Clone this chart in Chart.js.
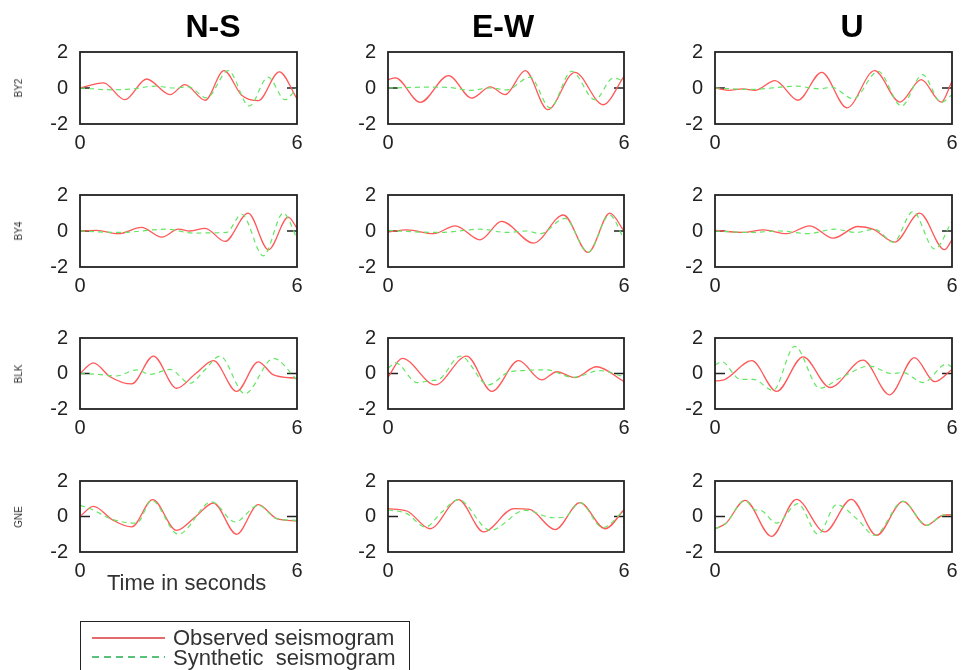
<!DOCTYPE html>
<html lang="en">
<head>
<meta charset="UTF-8" />
<title>Observed vs synthetic seismograms</title>
<script src="https://cdn.jsdelivr.net/npm/chart.js"></script>
<style>
    html, body {
        margin: 0;
        padding: 0;
        background: #fff;
        width: 965px;
        height: 670px;
        overflow: hidden;
        font-family: "Liberation Sans", Arial, sans-serif;
        color: #222;
    }
    .panel, .txt, .legend {
        position: absolute;
    }
    .txt {
        line-height: 1;
        white-space: pre;
    }
    .title {
        font-size: 32px;
        font-weight: bold;
        color: #000;
        transform: translateX(-50%);
    }
    .station {
        font-size: 10px;
        color: #333;
        transform: translate(-50%, -50%) rotate(-90deg);
    }
    .legend {
        left: 80px;
        top: 621px;
        width: 330px;
        height: 80px;
        border: 1.5px solid #222;
        box-sizing: border-box;
    }
</style>
</head>
<body>
<script>
    // axis ticks
    const X_TICKS = [0, 6];
    const Y_TICKS = [-2, 0, 2];
    const COMPONENTS = ["N-S", "E-W", "U"];
    const STATIONS = ["BY2", "BY4", "BLK", "GNE"];

    // [time s, amplitude]
    const NS_BY2_OBS = [[0,0],[0.65,0.28],[1.24,-0.65],[1.84,0.5],[2.49,-0.37],[2.9,0.19],[3.46,-0.68],[3.98,0.96],[4.47,-0.4],[4.93,-0.7],[5.51,0.9],[6,-0.6]];
    const NS_BY2_SYN = [[0,0],[0.9,-0.1],[1.4,-0.06],[2.1,0.1],[2.6,0],[3.0,0.06],[3.5,-0.55],[4.1,0.96],[4.68,-1.0],[5.2,0.6],[5.67,-0.65],[6,0.02]];
    const EW_BY2_OBS = [[0,0.46],[0.19,0.56],[0.82,-0.8],[1.54,0.69],[2.13,-0.56],[2.6,0.06],[2.98,-0.37],[3.49,0.96],[4.06,-1.2],[4.75,0.87],[5.47,-0.93],[6,0.65]];
    const EW_BY2_SYN = [[0,0],[1.1,0.05],[1.5,0.04],[2.09,-0.13],[2.6,0],[3.02,-0.1],[3.61,0.6],[4.12,-1.1],[4.67,0.93],[5.26,-0.65],[5.73,0.56],[6,0.37]];
    const U_BY2_OBS = [[0,0],[0.34,-0.13],[0.7,-0.05],[1.01,-0.13],[1.52,0.41],[2.1,-0.68],[2.7,0.87],[3.34,-1.1],[4.04,0.96],[4.68,-0.78],[5.22,0.46],[5.73,-0.78],[6,0.37]];
    const U_BY2_SYN = [[0,0],[0.88,-0.08],[2.06,0.1],[2.65,-0.05],[2.95,0.05],[3.5,-0.6],[4.13,0.93],[4.72,-1.0],[5.25,0.74],[5.73,-0.8],[6,-0.37]];

    const NS_BY4_OBS = [[0,0],[0.46,0.03],[1.06,-0.15],[1.7,0.2],[2.26,-0.34],[2.72,0.1],[3.04,0.0],[3.46,0.15],[4.01,-0.58],[4.65,0.99],[5.21,-1.04],[5.76,0.77],[6,0.15]];
    const NS_BY4_SYN = [[0,0],[1.1,-0.08],[2.4,0.1],[3.13,-0.12],[3.6,-0.1],[4.05,-0.08],[4.47,0.93],[5.07,-1.38],[5.62,0.99],[6,-0.4]];
    const EW_BY4_OBS = [[0,-0.06],[0.48,0.06],[1.16,-0.15],[1.71,0.29],[2.34,-0.49],[2.89,0.53],[3.7,-0.67],[4.46,0.89],[5.09,-1.19],[5.64,0.99],[6,0]];
    const EW_BY4_SYN = [[0,0.03],[0.82,-0.06],[1.33,-0.08],[2.34,0.1],[3.02,-0.08],[3.53,0],[3.87,-0.15],[4.5,0.7],[5.09,-1.19],[5.63,0.89],[6,-0.45]];
    const U_BY4_OBS = [[0,0.03],[0.72,-0.08],[1.23,0.06],[1.81,-0.15],[2.4,0.29],[2.99,-0.4],[3.62,0.25],[4.0,0.1],[4.55,-0.62],[5.18,0.99],[5.81,-1.04],[6,-0.49]];
    const U_BY4_SYN = [[0,0],[0.88,-0.08],[1.64,0],[2.36,-0.15],[3.03,0.1],[3.58,-0.08],[4.04,0.1],[4.52,-0.62],[5.01,1.08],[5.56,-1.0],[6,0.53]];

    const NS_BLK_OBS = [[0,0],[0.37,0.6],[0.83,-0.18],[1.43,-0.59],[2.03,0.98],[2.67,-0.83],[3.2,0.0],[3.69,0.72],[4.33,-1.01],[4.93,0.66],[5.35,-0.08],[6,-0.27]];
    const NS_BLK_SYN = [[0,0],[0.5,-0.05],[1.0,-0.14],[1.57,0.2],[1.94,-0.05],[2.49,0.23],[3.04,-0.55],[3.45,0.2],[3.87,0.98],[4.56,-1.14],[5.35,0.85],[6,-0.36]];
    const EW_BLK_OBS = [[0,-0.21],[0.36,0.85],[1.2,-0.64],[2.0,0.98],[2.64,-1.01],[3.32,0.72],[3.91,-0.36],[4.29,0.1],[4.75,-0.23],[5.3,0.38],[6,-0.46]];
    const EW_BLK_SYN = [[0,0.29],[0.19,0.6],[0.74,-0.51],[1.1,-0.4],[1.3,-0.33],[1.84,0.98],[2.55,-0.64],[3.1,0.1],[4.04,0.2],[4.7,-0.21],[5.39,0.16],[6,-0.18]];
    const U_BLK_OBS = [[0,-0.42],[0.23,-0.36],[0.93,0.72],[1.56,-1.01],[2.23,0.94],[2.91,-0.79],[3.75,0.75],[4.42,-1.2],[5.05,0.9],[5.56,-0.46],[6,0.23]];
    const U_BLK_SYN = [[0,0.47],[0.17,0.66],[0.64,-0.33],[0.97,-0.33],[1.47,-0.95],[2.02,1.53],[2.65,-0.83],[3.16,-0.27],[3.92,0.42],[4.46,0.0],[4.76,0.05],[5.27,-0.51],[5.86,0.53],[6,0.35]];

    const NS_GNE_OBS = [[0,0],[0.37,0.57],[0.92,-0.22],[1.43,-0.59],[2.01,0.95],[2.67,-0.78],[3.2,0.0],[3.69,0.76],[4.33,-1.0],[4.93,0.67],[5.44,-0.12],[6,-0.25]];
    const NS_GNE_SYN = [[0,0.63],[0.28,0.44],[0.92,-0.18],[1.57,-0.37],[1.98,0.91],[2.72,-1.0],[3.64,0.82],[4.29,-0.31],[4.93,0.63],[5.44,-0.12],[6,-0.22]];
    const EW_GNE_OBS = [[0,0.44],[0.48,0.31],[1.07,-0.69],[1.79,0.95],[2.43,-0.87],[3.2,0.44],[3.6,0.4],[4.25,-0.74],[4.88,0.78],[5.52,-0.69],[6,0.38]];
    const EW_GNE_SYN = [[0,0.38],[0.48,0.16],[0.95,-0.59],[1.37,0.25],[1.79,0.95],[2.6,-0.78],[3.49,0.35],[4.2,-0.07],[4.5,-0.03],[4.88,0.78],[5.46,-0.63],[6,0.35]];
    const U_GNE_OBS = [[0,-0.69],[0.27,-0.4],[0.76,0.91],[1.43,-1.12],[2.06,0.97],[2.78,-0.87],[3.45,0.97],[4.09,-1.06],[4.76,0.85],[5.35,-0.5],[5.77,0.07],[6,0.1]];
    const U_GNE_SYN = [[0,-0.69],[0.27,-0.4],[0.76,0.91],[1.01,0.38],[1.15,0.35],[1.56,-0.37],[2.1,0.72],[2.61,-1.0],[3.08,0.67],[3.6,-0.15],[4.04,-1.06],[4.76,0.85],[5.35,-0.5],[5.77,0.07],[6,0.1]];

    // rows = stations, columns = components
    const PANELS = [
        [[NS_BY2_OBS, NS_BY2_SYN], [EW_BY2_OBS, EW_BY2_SYN], [U_BY2_OBS, U_BY2_SYN]],
        [[NS_BY4_OBS, NS_BY4_SYN], [EW_BY4_OBS, EW_BY4_SYN], [U_BY4_OBS, U_BY4_SYN]],
        [[NS_BLK_OBS, NS_BLK_SYN], [EW_BLK_OBS, EW_BLK_SYN], [U_BLK_OBS, U_BLK_SYN]],
        [[NS_GNE_OBS, NS_GNE_SYN], [EW_GNE_OBS, EW_GNE_SYN], [U_GNE_OBS, U_GNE_SYN]]
    ];

    // layout (pixels)
    const COL_LEFT = [80, 388, 715];
    const COL_RIGHT = [297, 624, 952];
    const ROW_TOP = [52, 195, 338, 481];
    const ROW_BOTTOM = [124, 267, 409, 552];
    const TITLE_X = [213, 503, 852];
    const PAD_L = 80, PAD_R = 15, PAD_T = 15, PAD_B = 40;

    const RED = "rgb(255, 88, 88)";
    const GREEN = "rgb(100, 230, 100)";
    const FONT = "'Liberation Sans', Arial, sans-serif";

    function addText(cls, text, x, y, extra) {
        const d = document.createElement("div");
        d.className = "txt " + cls;
        d.textContent = text;
        d.style.left = x + "px";
        d.style.top = y + "px";
        if (extra) Object.assign(d.style, extra);
        document.body.appendChild(d);
        return d;
    }

    // box round the plot area plus short inward ticks at zero
    const framePlugin = {
        id: "frame",
        beforeDatasetsDraw(chart) {
            const { ctx, chartArea: a } = chart;
            const y0 = chart.scales.y.getPixelForValue(0);
            ctx.save();
            ctx.strokeStyle = "#222";
            ctx.lineWidth = 1.5;
            ctx.beginPath();
            ctx.moveTo(a.left, y0);
            ctx.lineTo(a.left + 10, y0);
            ctx.moveTo(a.right - 10, y0);
            ctx.lineTo(a.right, y0);
            ctx.stroke();
            ctx.restore();
        },
        afterDraw(chart) {
            const { ctx, chartArea: a } = chart;
            ctx.save();
            ctx.strokeStyle = "#222";
            ctx.lineWidth = 1.8;
            ctx.strokeRect(a.left, a.top, a.right - a.left, a.bottom - a.top);
            ctx.restore();
        }
    };

    function makePanel(row, col, obs, syn) {
        const L = COL_LEFT[col], R = COL_RIGHT[col];
        const T = ROW_TOP[row], B = ROW_BOTTOM[row];
        const div = document.createElement("div");
        div.className = "panel";
        div.style.left = (L - PAD_L) + "px";
        div.style.top = (T - PAD_T) + "px";
        div.style.width = (R - L + PAD_L + PAD_R) + "px";
        div.style.height = (B - T + PAD_T + PAD_B) + "px";
        const canvas = document.createElement("canvas");
        div.appendChild(canvas);
        document.body.appendChild(div);

        const tickFont = { family: FONT, size: 20 };
        new Chart(canvas, {
            type: "line",
            data: {
                datasets: [
                    { label: "Observed seismogram", data: obs, borderColor: RED, borderWidth: 1.3, order: 2 },
                    { label: "Synthetic seismogram", data: syn, borderColor: GREEN, borderWidth: 1.2, borderDash: [5, 4], order: 1 }
                ]
            },
            options: {
                responsive: true,
                maintainAspectRatio: false,
                animation: false,
                events: [],
                layout: { padding: { top: PAD_T, right: PAD_R, left: 0, bottom: 0 } },
                elements: {
                    point: { radius: 0 },
                    line: { cubicInterpolationMode: "monotone", fill: false }
                },
                plugins: { legend: { display: false }, tooltip: { enabled: false } },
                scales: {
                    x: {
                        type: "linear",
                        min: 0,
                        max: 6,
                        afterBuildTicks: s => { s.ticks = X_TICKS.map(v => ({ value: v })); },
                        afterFit: s => {
                            s.height = PAD_B;
                            s.paddingLeft = 0;
                            s.paddingRight = 0;
                        },
                        grid: { display: false, drawTicks: false },
                        border: { display: false },
                        ticks: { font: tickFont, color: "#222", padding: 7, maxRotation: 0, autoSkip: false }
                    },
                    y: {
                        min: -2,
                        max: 2,
                        afterBuildTicks: s => { s.ticks = Y_TICKS.map(v => ({ value: v })); },
                        afterFit: s => {
                            s.width = PAD_L;
                            s.paddingTop = 0;
                            s.paddingBottom = 0;
                        },
                        grid: { display: false, drawTicks: false },
                        border: { display: false },
                        ticks: { font: tickFont, color: "#222", padding: 12 }
                    }
                }
            },
            plugins: [framePlugin]
        });
    }

    PANELS.forEach((rowData, r) => {
        rowData.forEach((pair, c) => makePanel(r, c, pair[0], pair[1]));
        addText("station", STATIONS[r], 19, (ROW_TOP[r] + ROW_BOTTOM[r]) / 2);
    });

    COMPONENTS.forEach((name, c) => addText("title", name, TITLE_X[c], 10));

    addText("", "Time in seconds", 107, 572, { fontSize: "22px", color: "#333" });

    // legend
    const legend = document.createElement("div");
    legend.className = "legend";
    document.body.appendChild(legend);
    const svgNS = "http://www.w3.org/2000/svg";
    const svg = document.createElementNS(svgNS, "svg");
    svg.setAttribute("width", "90");
    svg.setAttribute("height", "40");
    svg.style.position = "absolute";
    svg.style.left = "88px";
    svg.style.top = "627px";
    [[11, "#d93b3b", null], [30, "#22ad4f", "7,5"]].forEach(([y, col, dash]) => {
        const ln = document.createElementNS(svgNS, "line");
        ln.setAttribute("x1", "4");
        ln.setAttribute("x2", "77");
        ln.setAttribute("y1", y);
        ln.setAttribute("y2", y);
        ln.setAttribute("stroke", col);
        ln.setAttribute("stroke-width", "1.5");
        if (dash) ln.setAttribute("stroke-dasharray", dash);
        svg.appendChild(ln);
    });
    document.body.appendChild(svg);
    addText("", "Observed seismogram", 173, 627, { fontSize: "22px", color: "#333" });
    addText("", "Synthetic  seismogram", 173, 647, { fontSize: "22px", color: "#333" });
</script>
</body>
</html>
